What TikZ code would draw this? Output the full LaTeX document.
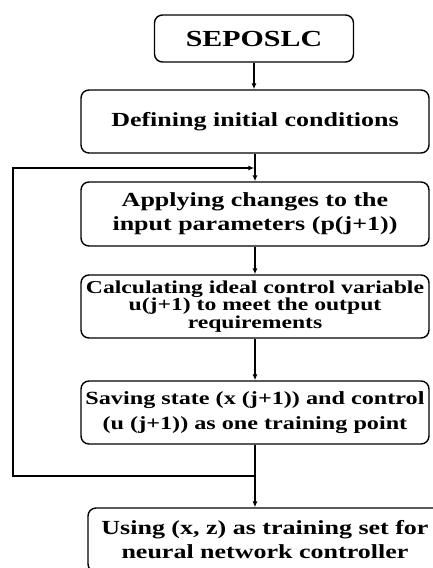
\documentclass[tikz,border=0pt]{standalone}
\usepackage{fontspec}
\usepackage{tikz}
\usetikzlibrary{arrows.meta}
\newfontfamily\boxfont[FakeStretch=1.3]{Liberation Serif}
\tikzstyle{block}=[draw, rounded corners=8pt, line width=1.4pt, align=center, inner sep=0pt, minimum width=348pt, minimum height=63pt, font=\boxfont\bfseries\fontsize{20}{24}\selectfont]

\begin{document}
\begin{tikzpicture}[x=1pt, y=-1pt, line width=1.4pt, >={Latex[length=6pt,width=5pt]}]
    \useasboundingbox (0,0) rectangle (433,568);
    \node[block, minimum width=199pt, minimum height=47pt, font=\boxfont\bfseries\fontsize{23}{27}\selectfont] (seposlc) at (254, 38.5) {SEPOSLC};
    \node[block] (init)  at (255, 121.5) {Defining initial conditions};
    \node[block, minimum height=64pt] (apply) at (255, 214) {Applying changes to the\\input parameters (p(j+1))};
    \node[block, font=\boxfont\bfseries\fontsize{18.2}{17.5}\selectfont] (calc) at (255, 306.5) {Calculating ideal control variable\\u(j+1) to meet the output\hspace{22pt}\\requirements};
    \node[block, font=\boxfont\bfseries\fontsize{18.6}{25}\selectfont] (save) at (255, 412.5) {Saving state (x (j+1)) and control\\(u (j+1)) as one training point};
    \node[block, minimum width=354pt, minimum height=64pt] (train) at (265, 540) {Using (x, z) as training set for\\neural network controller};
    \coordinate (split) at (255, 476);
    \coordinate (join) at (255, 168);
    \coordinate (lb) at (13, 476);
    \coordinate (lt) at (13, 168);
    \draw[->] (seposlc) -- (seposlc |- init.north);
    \draw[->] (init) -- (apply);
    \draw[->] (apply) -- (calc);
    \draw[->] (calc) -- (save);
    \draw[->] (save.south) -- (save.south |- train.north);
    \draw[->, shorten >=0.7pt] (split) -- (lb) -- (lt) -- (join);
\end{tikzpicture}
\end{document}
